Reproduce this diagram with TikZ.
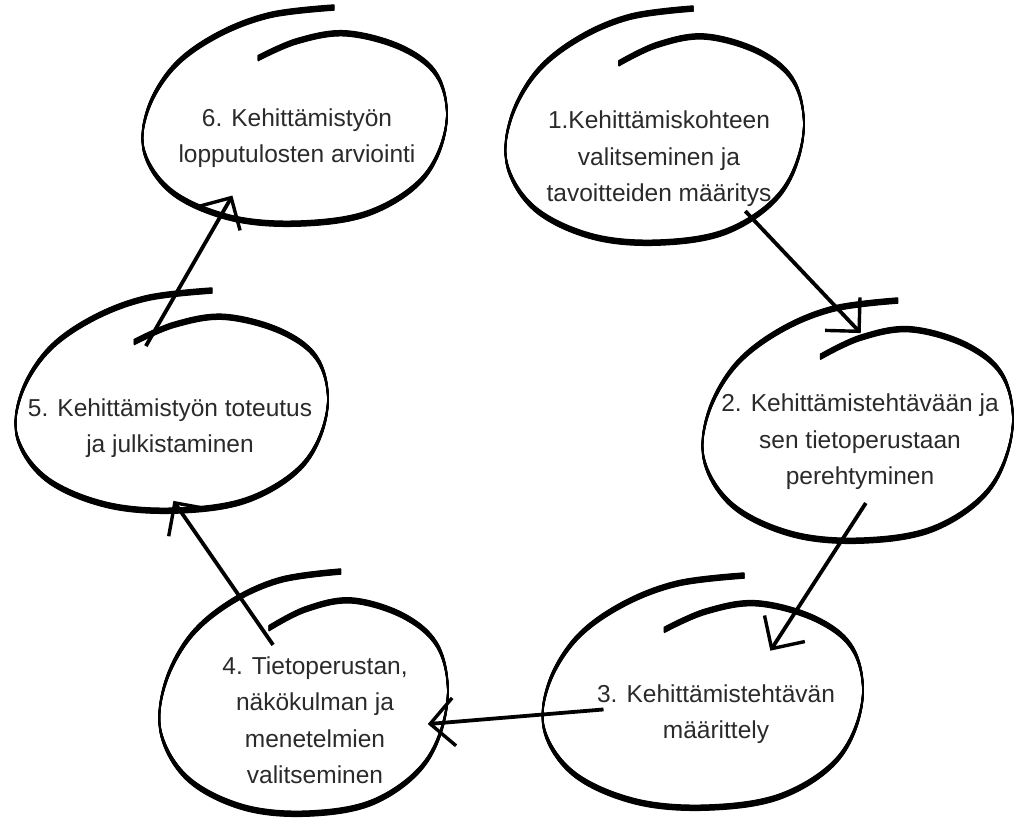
\documentclass[tikz,border=0pt]{standalone}
\usepackage{fontspec}
\setmainfont{Liberation Sans}
\usetikzlibrary{arrows.meta,shapes.geometric,calc}
\definecolor{inkgray}{RGB}{42,42,42}
\tikzset{
blob/.style 2 args={ellipse,inner sep=0pt,outer sep=0pt,minimum width=#1pt,minimum height=#2pt},
steptext/.style={align=center,text=inkgray,font=\fontsize{24.5}{36.5}\selectfont},
brush/.style={line width=1.5pt,black},
arrow/.style={-{Straight Barb[length=24pt,width=48pt,line width=3.4pt]},line width=3.8pt}
}
\newcommand{\brushloop}[3]{%
\foreach \d in {0,0.5,...,5}{
\draw[brush,shift={(#1.center)},yshift=\d pt,xscale=#2,yscale=#3] plot[smooth,tension=0.6] coordinates {
(0.27,-1.0) (-0.15,-0.93) (-0.5,-0.74) (-0.78,-0.45) (-0.95,-0.05) (-0.97,0.35) (-0.78,0.72)
(-0.4,0.95) (0.05,1.0) (0.5,0.9) (0.85,0.58) (1.0,0.1) (0.95,-0.35) (0.72,-0.62)
(0.35,-0.76) (0.03,-0.69) (-0.23,-0.53)};
}}
\begin{document}
\begin{tikzpicture}[x=1pt,y=-1pt]
\useasboundingbox (0,0) rectangle (1017,823);
\node[blob={306}{216}] (e6) at (293,118) {};
\node[blob={300}{234}] (e1) at (653,128) {};
\node[blob={312}{240}] (e2) at (856,423) {};
\node[blob={322}{232}] (e3) at (701,694) {};
\node[blob={290}{242}] (e4) at (302,695) {};
\node[blob={314}{220}] (e5) at (170,403) {};
\brushloop{e6}{153}{108}
\brushloop{e1}{150}{117}
\brushloop{e2}{156}{120}
\brushloop{e3}{161}{116}
\brushloop{e4}{145}{121}
\brushloop{e5}{157}{110}
\node[steptext] (t6) at (297,138) {6. Kehittämistyön\\lopputulosten arviointi};
\node[steptext] (t1) at (659,159) {1.Kehittämiskohteen\\valitseminen ja\\tavoitteiden määritys};
\node[steptext] (t2) at (860,442) {2. Kehittämistehtävään ja\\sen tietoperustaan\\perehtyminen};
\node[steptext] (t3) at (716,714) {3. Kehittämistehtävän\\määrittely};
\node[steptext] (t4) at (315,720) {4. Tietoperustan,\\näkökulman ja\\menetelmien\\valitseminen};
\node[steptext] (t5) at (170,428) {5. Kehittämistyön toteutus\\ja julkistaminen};
\foreach \a/\s/\f/\b/\t/\g in {e1/-42/0.94/e2/87.5/0.75,e2/-83.6/0.67/e3/32.5/0.57,e3/189.3/0.62/e4/-13.4/0.9,e4/120.1/0.46/e5/-88.2/0.89,e5/113.7/0.54/e6/232.4/0.82}
{\draw[arrow] ($(\a.center)!\f!(\a.\s)$) -- ($(\b.center)!\g!(\b.\t)$);}
\end{tikzpicture}
\end{document}
